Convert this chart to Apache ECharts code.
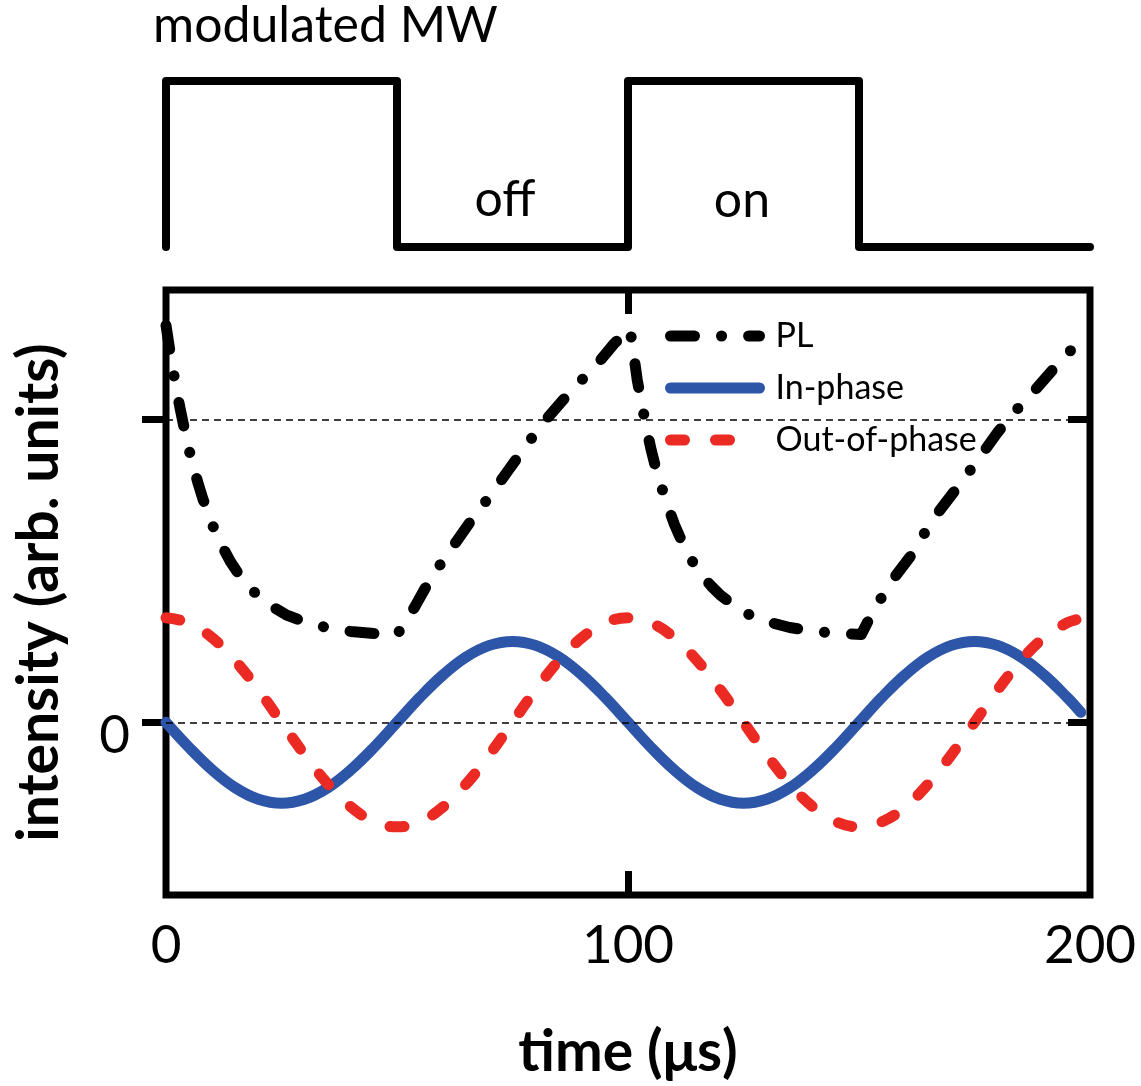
<!DOCTYPE html>
<html>
<head>
<meta charset="utf-8">
<title>Modulated MW response</title>
<script src="https://cdn.jsdelivr.net/npm/echarts@6/dist/echarts.min.js"></script>
<style>
  html, body { margin: 0; padding: 0; background: #ffffff; }
  #chart { width: 1141px; height: 1086px; }
</style>
</head>
<body>
<div id="chart"></div>
<script>
// Microwave modulation: square wave, 1 = on, 0 = off
const pulseTime  = [0, 0, 50, 50, 100, 100, 150, 150, 200];
const pulseLevel = [0, 1, 1, 0, 0, 1, 1, 0, 0];

// PL intensity (time in µs, arb. units)
const plTime = [0, 1, 2, 3, 4, 5, 6, 7, 8, 10, 12, 14, 16, 18, 20, 23, 26, 30, 35, 40, 45, 50,
  52, 54, 56, 58, 60, 63, 66, 70, 74, 78, 82, 86, 90, 94, 97, 100.4,
  101, 102, 103, 104, 105, 106, 107, 108, 110, 112, 114, 116, 118, 120, 123, 126, 130, 135, 140, 145, 150.5,
  152, 154, 156, 158, 161, 164, 167, 170, 173, 176, 180, 184, 188, 192, 195, 199];
const plValue = [1.31, 1.21, 1.12, 1.04, 0.966, 0.899, 0.84, 0.786, 0.737, 0.653, 0.585, 0.529, 0.483, 0.446, 0.417, 0.382, 0.355, 0.331, 0.312, 0.300, 0.293, 0.289,
  0.335, 0.385, 0.44, 0.49, 0.535, 0.6, 0.665, 0.745, 0.83, 0.915, 0.995, 1.065, 1.13, 1.195, 1.25, 1.30,
  1.24, 1.13, 1.05, 0.97, 0.90, 0.84, 0.79, 0.74, 0.655, 0.585, 0.53, 0.485, 0.45, 0.42, 0.385, 0.357, 0.333, 0.313, 0.301, 0.294, 0.29,
  0.335, 0.39, 0.44, 0.485, 0.545, 0.62, 0.69, 0.75, 0.81, 0.872, 0.957, 1.03, 1.095, 1.165, 1.215, 1.275];

// Lock-in outputs
const lockTime = [0, 5, 10, 15, 20, 25, 30, 35, 40, 45, 50, 55, 60, 65, 70, 75, 80, 85, 90, 95,
  100, 105, 110, 115, 120, 125, 130, 135, 140, 145, 150, 155, 160, 165, 170, 175, 180, 185, 190, 195, 198];
const inPhase = [0, -0.083, -0.157, -0.216, -0.254, -0.267, -0.254, -0.216, -0.157, -0.083,
  0, 0.083, 0.157, 0.216, 0.254, 0.267, 0.254, 0.216, 0.157, 0.083,
  0, -0.083, -0.157, -0.216, -0.254, -0.267, -0.254, -0.216, -0.157, -0.083,
  0, 0.083, 0.157, 0.216, 0.254, 0.267, 0.254, 0.216, 0.157, 0.083, 0.033];
const outOfPhase = [0.345, 0.328, 0.279, 0.203, 0.107, 0, -0.107, -0.203, -0.279, -0.328,
  -0.345, -0.328, -0.279, -0.203, -0.107, 0, 0.107, 0.203, 0.279, 0.328,
  0.345, 0.328, 0.279, 0.203, 0.107, 0, -0.107, -0.203, -0.279, -0.328,
  -0.345, -0.328, -0.279, -0.203, -0.107, 0, 0.107, 0.203, 0.279, 0.328, 0.342];

// Axis marks
const timeLabels = [0, 100, 200];
const timeTicks = [100];
const intensityLabels = [0];
const intensityTicks = [0, 1];
const guideLevels = [0, 1];

const zip = (xs, ys) => xs.map((x, i) => [x, ys[i]]);

const FONT = 'Lato, "Open Sans", "Noto Sans", sans-serif';
const BLACK = '#000000';
const BLUE = '#2d55a8';
const RED = '#ec2a24';

const PL_DASH = [24, 27, 0.1, 27];
const OUT_DASH = [14, 31];

const chart = echarts.init(document.getElementById('chart'), null, { renderer: 'canvas' });

const tickStyle = { color: BLACK, width: 7 };

chart.setOption({
  backgroundColor: '#ffffff',
  animation: false,
  textStyle: { fontFamily: FONT, color: BLACK },
  grid: [
    { left: 166, top: 290, width: 924, height: 614, show: true, borderColor: BLACK, borderWidth: 7, backgroundColor: 'transparent' },
    { left: 166, top: 81, width: 924, height: 166, show: false }
  ],
  xAxis: [
    {
      gridIndex: 0, type: 'value', min: 0, max: 200, position: 'bottom',
      axisLine: { show: false, onZero: false },
      axisTick: { show: true, inside: true, length: 24, customValues: timeTicks, lineStyle: tickStyle },
      axisLabel: { show: true, customValues: timeLabels, fontSize: 53, margin: 24, color: BLACK, fontFamily: FONT },
      splitLine: { show: false },
      name: 'time (μs)', nameLocation: 'middle', nameGap: 129,
      nameTextStyle: { fontSize: 57, fontWeight: 'bold', color: BLACK, fontFamily: FONT }
    },
    {
      gridIndex: 0, type: 'value', min: 0, max: 200, position: 'top',
      axisLine: { show: false, onZero: false },
      axisTick: { show: true, inside: true, length: 24, customValues: timeTicks, lineStyle: tickStyle },
      axisLabel: { show: false },
      splitLine: { show: false }
    },
    {
      gridIndex: 1, type: 'value', min: 0, max: 200, show: false
    }
  ],
  yAxis: [
    {
      gridIndex: 0, type: 'value', min: -0.57, max: 1.427, position: 'left',
      axisLine: { show: false, onZero: false },
      axisTick: { show: true, inside: false, length: 24, customValues: intensityTicks, lineStyle: tickStyle },
      axisLabel: { show: true, customValues: intensityLabels, fontSize: 53, margin: 36, color: BLACK, fontFamily: FONT, verticalAlign: 'top', lineHeight: 28 },
      splitLine: { show: false },
      name: 'intensity (arb. units)', nameLocation: 'middle', nameGap: 98, nameRotate: 90,
      nameTextStyle: { fontSize: 57, fontWeight: 'bold', color: BLACK, fontFamily: FONT }
    },
    {
      gridIndex: 0, type: 'value', min: -0.57, max: 1.427, position: 'right',
      axisLine: { show: false, onZero: false },
      axisTick: { show: true, inside: true, length: 22, customValues: intensityTicks, lineStyle: tickStyle },
      axisLabel: { show: false },
      splitLine: { show: false }
    },
    {
      gridIndex: 1, type: 'value', min: 0, max: 1, show: false
    }
  ],
  legend: {
    orient: 'vertical',
    left: 665, top: 319,
    padding: 0,
    itemWidth: 89, itemHeight: 14, itemGap: 18,
    itemStyle: { opacity: 0, borderWidth: 0 },
    lineStyle: { width: 11, cap: 'round' },
    data: [
      { name: 'PL', lineStyle: { type: PL_DASH } },
      { name: 'In-phase' },
      { name: 'Out-of-phase', lineStyle: { type: [14, 31, 14, 200] } }
    ],
    textStyle: { fontSize: 34, color: BLACK, fontFamily: FONT, padding: [0, 0, 0, 11] }
  },
  graphic: [
    { type: 'text', left: 153, top: 1, style: { text: 'modulated MW', font: '50px ' + FONT, fill: BLACK } },
    { type: 'text', x: 505, y: 200, style: { text: 'off', font: '50px ' + FONT, fill: BLACK, align: 'center', verticalAlign: 'middle' } },
    { type: 'text', x: 742, y: 201, style: { text: 'on', font: '50px ' + FONT, fill: BLACK, align: 'center', verticalAlign: 'middle' } }
  ],
  series: [
    {
      // dashed guide lines at 0 and 1
      type: 'line', xAxisIndex: 0, yAxisIndex: 0, data: [], z: 1, silent: true,
      markLine: {
        silent: true, symbol: ['none', 'none'], label: { show: false },
        lineStyle: { color: BLACK, width: 1.5, type: [7, 5] },
        data: guideLevels.map(v => ({ yAxis: v }))
      }
    },
    {
      name: 'PL', type: 'line', xAxisIndex: 0, yAxisIndex: 0, z: 4,
      data: zip(plTime, plValue), symbol: 'none', smooth: false,
      lineStyle: { color: BLACK, width: 11, type: PL_DASH, cap: 'round', join: 'round' },
      itemStyle: { color: BLACK }
    },
    {
      name: 'In-phase', type: 'line', xAxisIndex: 0, yAxisIndex: 0, z: 2,
      data: zip(lockTime, inPhase), symbol: 'none', smooth: 0.4,
      lineStyle: { color: BLUE, width: 11, cap: 'round', join: 'round' },
      itemStyle: { color: BLUE }
    },
    {
      name: 'Out-of-phase', type: 'line', xAxisIndex: 0, yAxisIndex: 0, z: 3,
      data: zip(lockTime, outOfPhase), symbol: 'none', smooth: 0.4,
      lineStyle: { color: RED, width: 11, type: OUT_DASH, cap: 'round', join: 'round' },
      itemStyle: { color: RED }
    },
    {
      name: 'MW', type: 'line', xAxisIndex: 2, yAxisIndex: 2, clip: false,
      data: zip(pulseTime, pulseLevel), symbol: 'none',
      lineStyle: { color: BLACK, width: 8, cap: 'round', join: 'round' }
    }
  ]
});
</script>
</body>
</html>
